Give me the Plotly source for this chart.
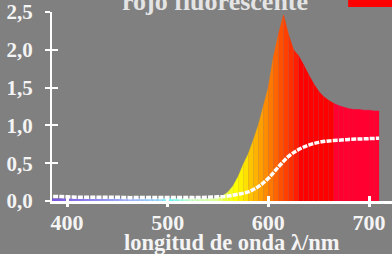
import plotly.graph_objects as go

# ---- data ----
title_text = "rojo fluorescente"
x_title = "longitud de onda λ/nm"
wavelengths = list(range(380, 715, 5))
spectrum = [0.03] * 34 + [0.04, 0.07, 0.12, 0.20, 0.32, 0.48, 0.62, 0.80, 1.00, 1.25,
                          1.50, 1.90, 2.20, 2.46, 2.20, 2.00, 1.92, 1.80, 1.67, 1.55,
                          1.45, 1.38, 1.33, 1.29, 1.26, 1.24, 1.22, 1.21, 1.21, 1.20,
                          1.20, 1.19, 1.19]
line_wl = list(range(380, 720, 10))
line_vals = [0.06, 0.06, 0.055, 0.05, 0.05, 0.05, 0.05, 0.05, 0.045, 0.045,
             0.045, 0.045, 0.045, 0.045, 0.045, 0.045, 0.05, 0.055, 0.065, 0.09,
             0.12, 0.19, 0.30, 0.45, 0.59, 0.68, 0.74, 0.775, 0.795, 0.805,
             0.815, 0.82, 0.825, 0.83]
x_ticks = [400, 500, 600, 700]
x_tick_labels = ["400", "500", "600", "700"]
y_ticks = [0.0, 0.5, 1.0, 1.5, 2.0, 2.5]
y_tick_labels = ["0,0", "0,5", "1,0", "1,5", "2,0", "2,5"]

# ---- style: wavelength -> colour ----
anchors = [(380, (120, 80, 220)), (420, (140, 130, 240)), (460, (160, 180, 255)),
           (490, (150, 220, 255)), (500, (110, 250, 250)), (520, (200, 255, 200)),
           (545, (220, 255, 150)), (555, (235, 255, 60)), (565, (255, 255, 0)),
           (575, (255, 225, 0)), (580, (255, 195, 0)), (590, (255, 160, 0)),
           (600, (255, 120, 0)), (610, (255, 80, 0)), (620, (255, 48, 0)),
           (625, (255, 30, 0)), (630, (255, 0, 0)), (660, (255, 0, 0)),
           (661, (255, 0, 48)), (720, (255, 0, 48))]


def wl_color(w):
    for (a, ca), (b, cb) in zip(anchors[:-1], anchors[1:]):
        if a <= w <= b:
            t = (w - a) / (b - a)
            c = [round(ca[k] + t * (cb[k] - ca[k])) for k in range(3)]
            return "rgb(%d,%d,%d)" % tuple(c)
    return "rgb(255,0,48)"


def bold(s):
    return "<b>%s</b>" % s


fig = go.Figure()
for i in range(len(wavelengths) - 1):
    col = wl_color(wavelengths[i])
    fig.add_trace(go.Scatter(
        x=[wavelengths[i], wavelengths[i + 1]], y=[spectrum[i], spectrum[i + 1]],
        mode="lines", line=dict(width=0.6, color=col), fill="tozeroy",
        fillcolor=col, hoverinfo="skip", showlegend=False))

fig.add_trace(go.Scatter(x=line_wl, y=line_vals, mode="lines", line_shape="spline",
                         line=dict(color="white", width=3.5, dash="5px,1.2px"),
                         showlegend=False))
# helper trace so the overlay (tick-only) axes are drawn
fig.add_trace(go.Scatter(x=[], y=[], xaxis="x2", yaxis="y2", showlegend=False))

font_y = dict(family="Liberation Serif", size=21, color="#f4f4f4")
font_x = dict(family="Liberation Serif", size=22, color="#f4f4f4")
xr = [385.1, 722.8]
yr = [0, 2.5]

fig.update_layout(
    width=392, height=254,
    margin=dict(l=52, r=0, t=12, b=53, autoexpand=False),
    paper_bgcolor="#808080", plot_bgcolor="#808080",
    showlegend=False,
    xaxis=dict(range=xr, tickvals=x_ticks, ticktext=[bold(t) for t in x_tick_labels],
               ticks="inside", ticklen=5, tickwidth=3,
               tickcolor="white", showline=True, linecolor="white", linewidth=3,
               showgrid=False, zeroline=False, tickfont=font_x, automargin=False),
    yaxis=dict(range=yr, tickvals=y_ticks, ticktext=[bold(t) for t in y_tick_labels],
               ticks="outside", ticklen=5, tickwidth=2, tickcolor="white", showline=True,
               linecolor="white", linewidth=2, showgrid=False, zeroline=False,
               tickfont=font_y, ticklabelstandoff=8, automargin=False),
    xaxis2=dict(range=xr, overlaying="x", tickvals=x_ticks, ticks="outside", ticklen=5,
                tickwidth=3, tickcolor="white", showticklabels=False, showgrid=False,
                zeroline=False, showline=False),
    yaxis2=dict(range=yr, overlaying="y", tickvals=y_ticks, ticks="inside", ticklen=6,
                tickwidth=2, tickcolor="white", showticklabels=False, showgrid=False,
                zeroline=False, showline=False),
    annotations=[
        dict(text=bold(title_text), x=0.479, y=0.968, xref="paper", yref="paper",
             xanchor="center", yanchor="bottom", showarrow=False,
             font=dict(family="Liberation Serif", size=26, color="#e4e4e4")),
        dict(text=bold(x_title), x=0.529, y=-0.218, xref="paper", yref="paper",
             xanchor="center", yanchor="middle", showarrow=False,
             font=dict(family="Liberation Serif", size=22.5, color="#f4f4f4")),
    ],
    shapes=[dict(type="rect", xref="paper", yref="paper", x0=0.871, x1=1.0,
                 y0=1.026, y1=1.1, fillcolor="#ff0000", line=dict(width=0))],
)

fig.write_html("out.html", config={"displayModeBar": False},
               post_script="document.body.style.margin='0';"
               "document.body.style.overflow='hidden';")
